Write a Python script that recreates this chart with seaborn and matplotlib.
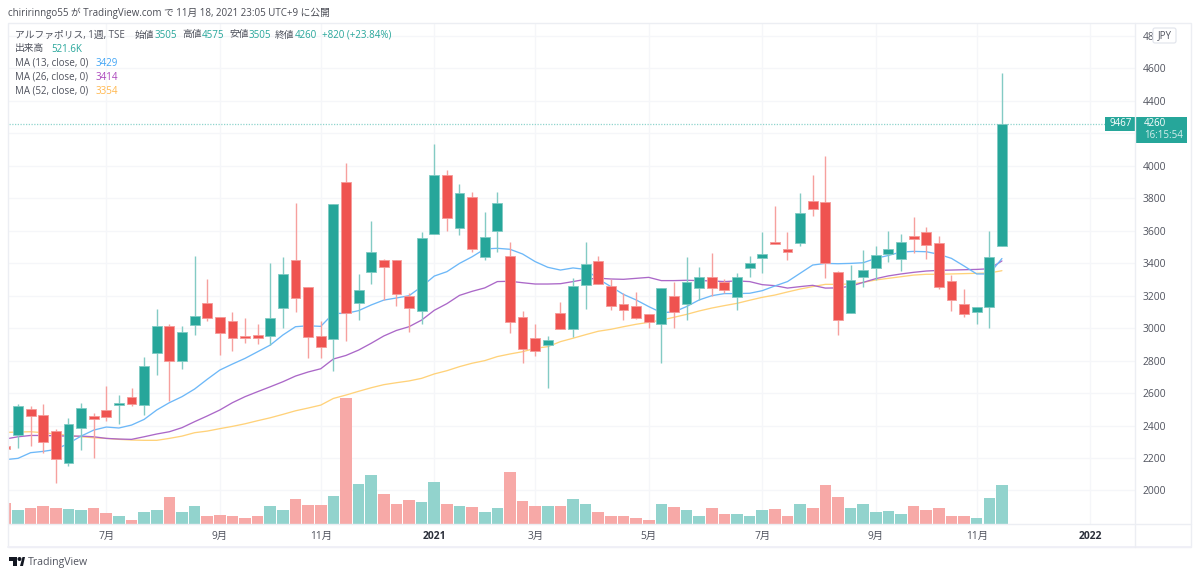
import matplotlib
matplotlib.use('Agg')
import matplotlib.pyplot as plt
from matplotlib.patches import Rectangle, Polygon, Circle, FancyBboxPatch
import numpy as np
import pandas as pd
import seaborn as sns

# weekly bars, first one is cut by the left edge of the chart
opens = [2275,2342,2500,2463,2366,2167,2383,2457,2496,2526,2578,2526,2845,3013,2796,3019,3153,3067,3046,2952,
         2958,2952,3126,3418,3251,2952,2931,3902,3155,3344,3418,3418,3198,3104,3580,3941,3617,3810,3440,3597,
         3447,3067,2942,2896,3092,2993,3266,3414,3258,3149,3137,3087,3026,3198,3147,3250,3315,3285,3192,3373,
         3432,3529,3488,3527,3781,3777,3344,3096,3315,3369,3455,3424,3570,3590,3525,3293,3149,3102,3128,3505]
highs = [2275,2533,2520,2530,2378,2446,2541,2475,2644,2588,2631,2820,3116,3025,3013,3447,3305,3067,3098,3060,
         3026,3399,3436,3769,3251,3046,3765,4020,3334,3660,3428,3418,3219,3595,4134,3974,3888,3839,3714,3839,
         3533,3108,3026,2952,3159,3307,3529,3445,3303,3215,3223,3087,3245,3286,3436,3375,3461,3303,3338,3447,
         3590,3753,3595,3831,3941,4060,3350,3389,3479,3508,3598,3582,3687,3621,3570,3327,3243,3128,3600,4575]
lows = [2255,2264,2276,2229,2048,2153,2249,2202,2430,2409,2520,2467,2709,2553,2748,2958,3046,2835,2859,2907,
        2900,2896,3003,3098,2818,2818,2738,2923,3052,3270,3174,3139,2977,3026,3580,3599,3576,3471,3420,3471,
        2968,2788,2831,2630,2993,2944,3118,3270,3110,3052,3057,3003,2784,3003,3052,3174,3198,3215,3110,3313,
        3338,3520,3420,3508,3693,3311,2960,3096,3254,3299,3408,3352,3461,3424,3239,3106,3071,3026,3003,3505]
closes = [2255,2520,2461,2296,2192,2407,2506,2442,2453,2537,2535,2765,3013,2795,2974,3073,3061,2968,2939,2942,
          2939,3061,3334,3188,2944,2886,3765,3096,3233,3471,3377,3213,3122,3553,3941,3677,3835,3486,3564,3769,
          3038,2870,2862,2929,2993,3262,3393,3270,3135,3110,3061,3038,3245,3102,3282,3315,3245,3235,3315,3401,
          3459,3520,3469,3712,3734,3404,3050,3295,3360,3453,3488,3533,3547,3510,3256,3176,3089,3128,3438,4260]
# volume, thousands of shares
volumes = [279,182,216,235,208,199,182,208,146,102,57,163,182,358,155,235,110,119,110,76,
           102,243,190,332,252,252,368,1668,535,654,394,261,314,288,557,261,235,226,155,208,
           690,305,235,243,243,332,269,163,110,102,84,57,269,226,182,102,208,129,129,110,
           190,199,102,261,208,514,358,216,261,163,173,129,235,190,208,110,102,84,341,522]
ma13 = [2190,2198,2233,2241,2253,2290,2335,2372,2391,2385,2403,2438,2496,2541,2578,2625,2685,2742,2779,2814,
        2855,2896,2958,3009,3015,3011,3091,3091,3108,3143,3173,3186,3200,3256,3321,3348,3399,3440,3488,3492,
        3486,3457,3410,3375,3358,3371,3362,3303,3256,3208,3174,3133,3096,3100,3133,3174,3200,3213,3213,3215,
        3231,3260,3287,3338,3389,3399,3397,3399,3403,3430,3448,3469,3473,3471,3455,3430,3383,3334,3334,3429]
ma26 = [2317,2331,2339,2339,2337,2335,2335,2331,2321,2317,2315,2331,2348,2362,2387,2424,2459,2496,2541,2578,
        2609,2639,2670,2705,2730,2750,2810,2832,2865,2907,2952,2986,3009,3050,3110,3151,3202,3227,3248,3287,
        3289,3280,3272,3272,3274,3287,3301,3308,3303,3301,3307,3313,3293,3293,3295,3293,3291,3287,3291,3287,
        3268,3262,3247,3256,3264,3247,3248,3258,3282,3305,3322,3334,3344,3352,3356,3358,3360,3362,3366,3414]
ma52 = [2358,2360,2362,2356,2348,2339,2331,2325,2321,2315,2311,2309,2309,2321,2335,2356,2366,2381,2395,2411,
        2430,2448,2469,2491,2508,2526,2567,2588,2611,2633,2652,2664,2675,2691,2718,2738,2763,2784,2800,2825,
        2841,2855,2876,2886,2917,2938,2960,2981,2993,3009,3024,3036,3050,3067,3085,3106,3124,3139,3153,3172,
        3190,3204,3223,3241,3256,3270,3270,3272,3282,3297,3307,3317,3327,3332,3332,3334,3336,3338,3340,3354]

price_ticks = [2000,2200,2400,2600,2800,3000,3200,3400,3600,3800,4000,4200,4400,4600,4800]
# 4200 is covered by the last price box in the screenshot
price_labels = ['2000','2200','2400','2600','2800','3000','3200','3400','3600','3800','4000','','4400','4600','4800']
date_ticks = [7,16,24,33,41,50,59,68,76,85]
date_labels = ['7月','9月','11月','2021','3月','5月','7月','9月','11月','2022']

UP = '#26a69a'
DOWN = '#ef5350'
TEXT = '#50535e'
FS = 7.0

sns.set_theme(style='white')
plt.rcParams['font.family'] = ['Open Sans', 'Noto Sans CJK JP', 'DejaVu Sans']

df = pd.DataFrame({'week': np.arange(-1, len(opens) - 1), 'open': opens, 'high': highs,
                   'low': lows, 'close': closes, 'volume': volumes,
                   'ma13': ma13, 'ma26': ma26, 'ma52': ma52})
df['dir'] = np.where(df.close >= df.open, 'up', 'down')

XLIM = (-0.713, 88.55)
YLIM = (1793.6, 4880)

W, H = 1200, 576
fig = plt.figure(figsize=(12, 5.76), dpi=100, facecolor='white')
# plot area in pixels: x 9..1135, y 23..524
rect = [9 / W, 1 - 524 / H, 1126 / W, 501 / H]

# grid sits under the volume bars so it gets its own axes
axg = fig.add_axes(rect, zorder=1)
axg.set_xlim(*XLIM)
axg.set_ylim(*YLIM)
axg.set_xticks(date_ticks)
axg.set_yticks(price_ticks)
axg.tick_params(length=0, labelbottom=False, labelleft=False)
axg.grid(True, color='#f5f6f9', lw=1)
sns.despine(ax=axg, left=True, bottom=True)

axv = fig.add_axes(rect, zorder=2)
axv.patch.set_visible(False)
sns.barplot(data=df, x='week', y='volume', hue='dir', palette={'up': '#92d3cd', 'down': '#f7a9a7'},
            hue_order=['up', 'down'], native_scale=True, dodge=False, width=0.92, saturation=1,
            edgecolor='none', linewidth=0, legend=False, ax=axv)
axv.set_xlim(*XLIM)
axv.set_ylim(0, 6648)
axv.axis('off')

ax = fig.add_axes(rect, zorder=3)
ax.patch.set_visible(False)

for name, color in [('ma52', '#ffd27a'), ('ma26', '#ab68c8'), ('ma13', '#6db8f8')]:
    sns.lineplot(data=df, x='week', y=name, color=color, lw=0.95, errorbar=None, ax=ax, zorder=2)

# candles
colors = [UP if d == 'up' else DOWN for d in df.dir]
wicks = ['#83cbc4' if d == 'up' else '#f6a09e' for d in df.dir]
ax.vlines(df.week, df.low, df.high, colors=wicks, lw=1.0, zorder=3)
ax.bar(df.week, (df.close - df.open).abs(), bottom=df[['open', 'close']].min(axis=1), width=0.78,
       color=colors, edgecolor=['#7fcac3' if d == 'up' else '#f59a98' for d in df.dir], lw=0.6, zorder=4)

ax.axhline(closes[-1], color='#8fd4cd', lw=0.9, ls=(0, (1, 1.2)), zorder=1)

ax.set_xlim(*XLIM)
ax.set_ylim(*YLIM)
ax.yaxis.tick_right()
ax.set_yticks(price_ticks)
ax.set_yticklabels(price_labels)
ax.set_xticks(date_ticks)
ax.set_xticklabels(date_labels)
ax.tick_params(axis='y', length=0, pad=5.5, labelsize=7.4, labelcolor=TEXT)
ax.tick_params(axis='x', length=0, pad=4.8, labelsize=7.4, labelcolor=TEXT)
for lab in ax.get_xticklabels():
    if lab.get_text() in ('2021', '2022'):
        lab.set_fontweight('bold')
        lab.set_color('#2a2e39')
ax.set_xlabel('')
ax.set_ylabel('')
for s in ax.spines.values():
    s.set_visible(False)

# screenshot furniture, drawn in pixel coordinates
ui = fig.add_axes([0, 0, 1, 1], zorder=10)
ui.set_xlim(0, W)
ui.set_ylim(H, 0)
ui.axis('off')
FRAME = '#eceef3'
ui.add_patch(Rectangle((8, 23), 1183, 523.5, fill=False, ec=FRAME, lw=1))
ui.plot([8, 1191], [546.5, 546.5], color='#f0f0f7', lw=1.4)
ui.plot([1135, 1135], [23, 546.5], color=FRAME, lw=1)
ui.plot([8, 1191], [524, 524], color=FRAME, lw=1)

ui.text(8, 13, 'chiririnngo55 が TradingView.com で 11月 18, 2021 23:05 UTC+9 に公開',
        fontsize=FS, color='#4a4c55', va='center')

row1 = [(15, 'アルファポリス, 1週, TSE', TEXT), (135, '始値', TEXT), (155, '3505', UP), (182, '高値', TEXT),
        (202, '4575', UP), (229, '安値', TEXT), (249, '3505', UP), (275, '終値', TEXT), (295, '4260', UP),
        (322, '+820 (+23.84%)', UP)]
for x, s, c in row1:
    ui.text(x, 35, s, fontsize=FS, color=c, va='center')
ui.text(15, 49, '出来高', fontsize=FS, color=TEXT, va='center')
ui.text(51, 49, '521.6K', fontsize=FS, color=UP, va='center')
for y, s, v, c in [(63, 'MA (13, close, 0)', '3429', '#42a5f5'),
                   (77, 'MA (26, close, 0)', '3414', '#ab47bc'),
                   (91, 'MA (52, close, 0)', '3354', '#ffb74d')]:
    ui.text(15, y, s, fontsize=FS, color=TEXT, va='center')
    ui.text(96, y, v, fontsize=FS, color=c, va='center')

# JPY badge over the top price label
ui.add_patch(FancyBboxPatch((1154, 29), 21, 13, boxstyle='round,pad=1,rounding_size=2', fc='white',
                            ec='#e0e3eb', lw=0.8))
ui.text(1164.5, 35.5, 'JPY', fontsize=FS, color=TEXT, ha='center', va='center')

# last price labels
ui.add_patch(Rectangle((1105, 117), 30, 14, fc=UP, ec='none'))
ui.add_patch(Rectangle((1135, 117), 52, 26, fc=UP, ec='none'))
ui.text(1109, 124, '9467', fontsize=FS, color='white', va='center')
ui.text(1144, 124, str(closes[-1]), fontsize=FS, color='white', va='center')
ui.text(1144, 136, '16:15:54', fontsize=FS, color='#d5efec', va='center')

# logo and footer
ui.add_patch(Polygon([(9, 557), (17, 557), (17, 566), (13, 566), (13, 561), (9, 561)], fc='#131722', ec='none'))
ui.add_patch(Circle((19.5, 559), 2, fc='#131722', ec='none'))
ui.add_patch(Polygon([(20, 566), (22.5, 557), (25, 557), (23, 566)], fc='#131722', ec='none'))
ui.text(28, 562, 'TradingView', fontsize=7.6, color='#50535e', va='center')

fig.savefig('out.png', dpi=100)
